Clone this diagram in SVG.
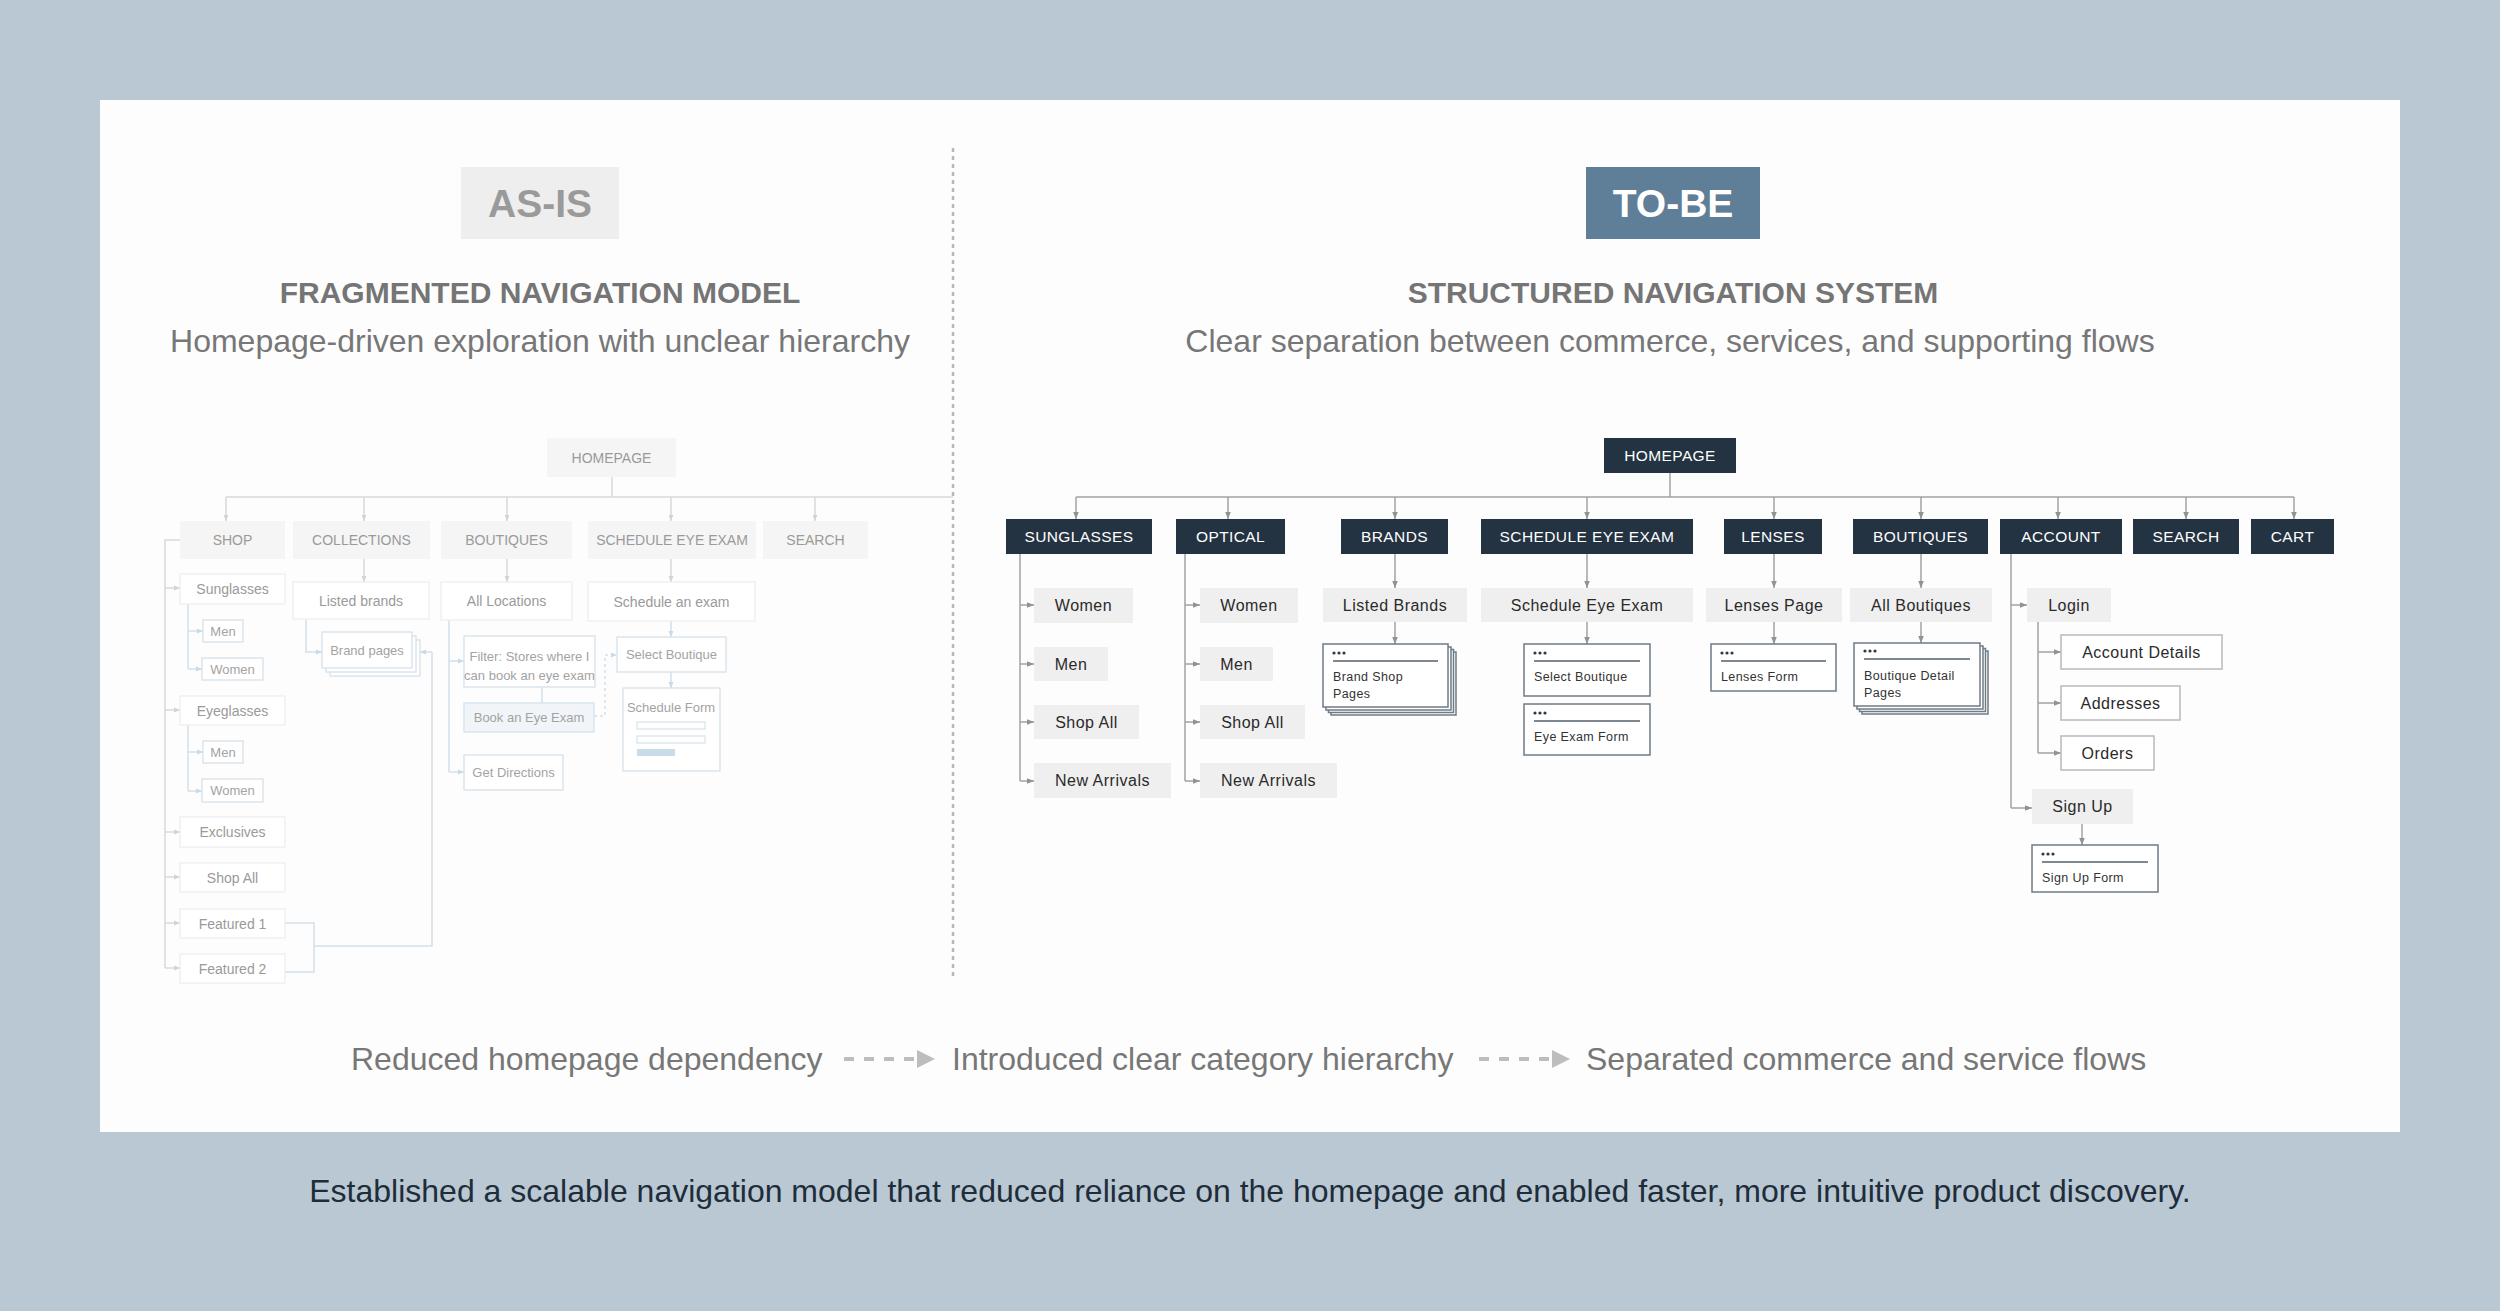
<svg xmlns="http://www.w3.org/2000/svg" width="2500" height="1311" viewBox="0 0 2500 1311">
<defs>
<style>
text{font-family:"Liberation Sans",Arial,sans-serif}
.h-tag{font-size:39px;font-weight:bold;text-anchor:middle}
.h-title{font-size:30px;font-weight:bold;fill:#757575;text-anchor:middle}
.h-sub{font-size:32px;fill:#777;text-anchor:middle}
.flow{font-size:32px;fill:#777}
.cap{font-size:32px;fill:#1f2d3b;text-anchor:middle}
.a1{fill:#f5f5f5}
.a2{fill:#fff;stroke:#eceef0;stroke-width:1.3}
.a3{fill:#fff;stroke:#d6e2eb;stroke-width:1.3}
.at{font-size:14px;fill:#9a9a9a;text-anchor:middle}
.as{font-size:13px;fill:#a3a3a3;text-anchor:middle}
.ac{stroke:#d6dadd;stroke-width:1.5;fill:none}
.ab{stroke:#d3dfe8;stroke-width:1.5;fill:none}
.t1{fill:#243342}
.t1t{font-size:15.5px;fill:#fff;letter-spacing:0.4px;text-anchor:middle}
.t2{fill:#efefef}
.t3{fill:#fff;stroke:#b9b9b9;stroke-width:1.5}
.t2t{font-size:16px;fill:#2a2a2a;letter-spacing:0.5px;text-anchor:middle}
.card{fill:#fff;stroke:#6f7b85;stroke-width:1.5}
.cl{stroke:#55616b;stroke-width:1.5}
.dot{fill:#2f3a44}
.ct{font-size:12.5px;fill:#333;letter-spacing:0.4px}
.tc{stroke:#a2a2a2;stroke-width:1.5;fill:none}
.fl{stroke:#bdbdbd;stroke-width:4;stroke-dasharray:10 10;fill:none}
</style>
<marker id="ta" viewBox="0 0 10 10" refX="10" refY="5" markerWidth="7" markerHeight="7" markerUnits="userSpaceOnUse" orient="auto"><path d="M0,1 L10,5 L0,9 z" fill="#929292"/></marker>
<marker id="aa" viewBox="0 0 10 10" refX="10" refY="5" markerWidth="6" markerHeight="6" markerUnits="userSpaceOnUse" orient="auto"><path d="M0,1 L10,5 L0,9 z" fill="#cfd4d8"/></marker>
<marker id="ba" viewBox="0 0 10 10" refX="10" refY="5" markerWidth="6" markerHeight="6" markerUnits="userSpaceOnUse" orient="auto"><path d="M0,1 L10,5 L0,9 z" fill="#c9dae6"/></marker>
</defs>

<rect x="0" y="0" width="2500" height="1311" fill="#b9c8d2"/>
<rect x="100" y="100" width="2300" height="1032" fill="#fdfdfd"/>
<line x1="953" y1="148" x2="953" y2="978" stroke="#b8b8b8" stroke-width="2.5" stroke-dasharray="4 4"/>

<!-- headers -->
<g id="hdr-asis">
<rect x="461" y="167" width="158" height="72" fill="#eeeeee"/>
<text class="h-tag" x="540" y="217" fill="#9a9a9a">AS-IS</text>
<text class="h-title" x="540" y="303">FRAGMENTED NAVIGATION MODEL</text>
<text class="h-sub" x="540" y="352">Homepage-driven exploration with unclear hierarchy</text>
</g>
<g id="hdr-tobe">
<rect x="1586" y="167" width="174" height="72" fill="#5f7f98"/>
<text class="h-tag" x="1673" y="217" fill="#ffffff">TO-BE</text>
<text class="h-title" x="1673" y="303">STRUCTURED NAVIGATION SYSTEM</text>
<text class="h-sub" x="1670" y="352">Clear separation between commerce, services, and supporting flows</text>
</g>

<!-- AS-IS connectors -->
<g id="asis-connectors">
<path class="ac" d="M612,477 V497 M226,497 H953"/>
<path class="ac" marker-end="url(#aa)" d="M226,497 V521"/>
<path class="ac" marker-end="url(#aa)" d="M364,497 V521"/>
<path class="ac" marker-end="url(#aa)" d="M507,497 V521"/>
<path class="ac" marker-end="url(#aa)" d="M671,497 V521"/>
<path class="ac" marker-end="url(#aa)" d="M815,497 V521"/>
<path class="ac" d="M180,540 H165 V968"/>
<path class="ac" marker-end="url(#aa)" d="M165,588 H180"/>
<path class="ac" marker-end="url(#aa)" d="M165,710 H180"/>
<path class="ac" marker-end="url(#aa)" d="M165,832 H180"/>
<path class="ac" marker-end="url(#aa)" d="M165,877 H180"/>
<path class="ac" marker-end="url(#aa)" d="M165,923 H180"/>
<path class="ac" marker-end="url(#aa)" d="M165,968 H180"/>
<path class="ab" d="M188,604 V669"/>
<path class="ab" marker-end="url(#ba)" d="M188,631 H203"/>
<path class="ab" marker-end="url(#ba)" d="M188,669 H202"/>
<path class="ab" d="M188,725 V791"/>
<path class="ab" marker-end="url(#ba)" d="M188,752 H203"/>
<path class="ab" marker-end="url(#ba)" d="M188,791 H202"/>
<path class="ab" d="M285,923 H314 V972 H285 M314,946 H432 V652"/>
<path class="ab" marker-end="url(#ba)" d="M432,652 H420"/>
<path class="ac" marker-end="url(#aa)" d="M364,559 V582"/>
<path class="ab" marker-end="url(#ba)" d="M306,619 V652 H322"/>
<path class="ac" marker-end="url(#aa)" d="M507,559 V582"/>
<path class="ab" d="M449,620 V772"/>
<path class="ab" marker-end="url(#ba)" d="M449,661 H464"/>
<path class="ab" marker-end="url(#ba)" d="M449,772 H464"/>
<path class="ab" d="M542,687 V703"/>
<path class="ab" stroke-dasharray="3 3" marker-end="url(#ba)" d="M594,716 H605 V655 H617"/>
<path class="ac" marker-end="url(#aa)" d="M671,559 V582"/>
<path class="ab" marker-end="url(#ba)" d="M671,621 V637"/>
<path class="ab" marker-end="url(#ba)" d="M671,672 V688"/>
</g>

<!-- AS-IS nodes -->
<g id="a-home"><rect class="a1" x="547" y="438" width="129" height="39"/><text class="at" x="611.5" y="462.5">HOMEPAGE</text></g>
<g id="a-shop"><rect class="a1" x="180" y="521" width="105" height="38"/><text class="at" x="232.5" y="545">SHOP</text></g>
<g id="a-collections"><rect class="a1" x="293" y="521" width="137" height="38"/><text class="at" x="361.5" y="545">COLLECTIONS</text></g>
<g id="a-boutiques"><rect class="a1" x="441" y="521" width="131" height="38"/><text class="at" x="506.5" y="545">BOUTIQUES</text></g>
<g id="a-schedule"><rect class="a1" x="588" y="521" width="168" height="38"/><text class="at" x="672" y="545">SCHEDULE EYE EXAM</text></g>
<g id="a-search"><rect class="a1" x="763" y="521" width="105" height="38"/><text class="at" x="815.5" y="545">SEARCH</text></g>

<g id="a-sunglasses"><rect class="a2" x="180" y="574" width="105" height="30"/><text class="at" x="232.5" y="594">Sunglasses</text></g>
<g id="a-sun-men"><rect class="a3" x="203" y="620" width="40" height="22"/><text class="as" x="223" y="635.5" font-size="12.5">Men</text></g>
<g id="a-sun-women"><rect class="a3" x="202" y="658" width="61" height="22"/><text class="as" x="232.5" y="673.5">Women</text></g>
<g id="a-eyeglasses"><rect class="a2" x="180" y="696" width="105" height="29"/><text class="at" x="232.5" y="715.5">Eyeglasses</text></g>
<g id="a-eye-men"><rect class="a3" x="203" y="741" width="40" height="22"/><text class="as" x="223" y="756.5">Men</text></g>
<g id="a-eye-women"><rect class="a3" x="202" y="779" width="61" height="23"/><text class="as" x="232.5" y="795">Women</text></g>
<g id="a-exclusives"><rect class="a2" x="180" y="817" width="105" height="30"/><text class="at" x="232.5" y="837">Exclusives</text></g>
<g id="a-shopall"><rect class="a2" x="180" y="863" width="105" height="29"/><text class="at" x="232.5" y="882.5">Shop All</text></g>
<g id="a-featured1"><rect class="a2" x="180" y="909" width="105" height="29"/><text class="at" x="232.5" y="928.5">Featured 1</text></g>
<g id="a-featured2"><rect class="a2" x="180" y="954" width="105" height="29"/><text class="at" x="232.5" y="973.5">Featured 2</text></g>

<g id="a-listed"><rect class="a2" x="293" y="582" width="136" height="37"/><text class="at" x="361" y="605.5" font-size="15">Listed brands</text></g>
<g id="a-brandpages"><rect class="a3" x="330" y="640" width="90" height="36"/><rect class="a3" x="326" y="636" width="90" height="36"/><rect class="a3" x="322" y="632" width="90" height="36"/><text class="as" x="367" y="654.5">Brand pages</text></g>

<g id="a-locations"><rect class="a2" x="441" y="582" width="131" height="38"/><text class="at" x="506.5" y="606" font-size="15">All Locations</text></g>
<g id="a-filter"><rect class="a3" x="464" y="636" width="131" height="51"/><text class="as" x="529.5" y="660.5" font-size="11.5">Filter: Stores where I</text><text class="as" x="529.5" y="679.5" font-size="11.5">can book an eye exam</text></g>
<g id="a-book"><rect class="a3" x="464" y="703" width="130" height="29" fill="#f1f5f9" style="fill:#f1f5f9"/><text class="as" x="529" y="722">Book an Eye Exam</text></g>
<g id="a-directions"><rect class="a3" x="464" y="755" width="99" height="35"/><text class="as" x="513.5" y="777">Get Directions</text></g>

<g id="a-schedexam"><rect class="a2" x="588" y="582" width="167" height="39"/><text class="at" x="671.5" y="606.5" font-size="14.5">Schedule an exam</text></g>
<g id="a-selectb"><rect class="a3" x="617" y="637" width="109" height="35"/><text class="as" x="671.5" y="659">Select Boutique</text></g>
<g id="a-schedform"><rect class="a3" x="623" y="688" width="97" height="83"/><text class="as" x="671" y="711.5" font-size="11.5">Schedule Form</text>
<rect x="637" y="722" width="68" height="7" fill="#fff" stroke="#d6e2eb" stroke-width="1.2"/>
<rect x="637" y="736" width="68" height="7" fill="#fff" stroke="#d6e2eb" stroke-width="1.2"/>
<rect x="637" y="749" width="38" height="7" fill="#c7dbe8"/></g>

<!-- TO-BE connectors -->
<g id="tobe-connectors">
<path class="tc" d="M1670,473 V497 M1076,497 H2294"/>
<path class="tc" marker-end="url(#ta)" d="M1076,497 V519"/>
<path class="tc" marker-end="url(#ta)" d="M1228,497 V519"/>
<path class="tc" marker-end="url(#ta)" d="M1395,497 V519"/>
<path class="tc" marker-end="url(#ta)" d="M1587,497 V519"/>
<path class="tc" marker-end="url(#ta)" d="M1774,497 V519"/>
<path class="tc" marker-end="url(#ta)" d="M1921,497 V519"/>
<path class="tc" marker-end="url(#ta)" d="M2058,497 V519"/>
<path class="tc" marker-end="url(#ta)" d="M2186,497 V519"/>
<path class="tc" marker-end="url(#ta)" d="M2294,497 V519"/>
<path class="tc" d="M1020,554 V781"/>
<path class="tc" marker-end="url(#ta)" d="M1020,605 H1034"/>
<path class="tc" marker-end="url(#ta)" d="M1020,664 H1034"/>
<path class="tc" marker-end="url(#ta)" d="M1020,722 H1034"/>
<path class="tc" marker-end="url(#ta)" d="M1020,781 H1034"/>
<path class="tc" d="M1185,554 V781"/>
<path class="tc" marker-end="url(#ta)" d="M1185,605 H1200"/>
<path class="tc" marker-end="url(#ta)" d="M1185,664 H1200"/>
<path class="tc" marker-end="url(#ta)" d="M1185,722 H1200"/>
<path class="tc" marker-end="url(#ta)" d="M1185,781 H1200"/>
<path class="tc" marker-end="url(#ta)" d="M1395,554 V588"/>
<path class="tc" marker-end="url(#ta)" d="M1395,622 V644"/>
<path class="tc" marker-end="url(#ta)" d="M1587,554 V588"/>
<path class="tc" marker-end="url(#ta)" d="M1587,622 V644"/>
<path class="tc" marker-end="url(#ta)" d="M1774,554 V588"/>
<path class="tc" marker-end="url(#ta)" d="M1774,622 V644"/>
<path class="tc" marker-end="url(#ta)" d="M1921,554 V588"/>
<path class="tc" marker-end="url(#ta)" d="M1921,622 V643"/>
<path class="tc" d="M2011,554 V808"/>
<path class="tc" marker-end="url(#ta)" d="M2011,605 H2027"/>
<path class="tc" marker-end="url(#ta)" d="M2011,808 H2032"/>
<path class="tc" d="M2038,622 V753"/>
<path class="tc" marker-end="url(#ta)" d="M2038,652 H2061"/>
<path class="tc" marker-end="url(#ta)" d="M2038,703 H2061"/>
<path class="tc" marker-end="url(#ta)" d="M2038,753 H2061"/>
<path class="tc" marker-end="url(#ta)" d="M2082,824 V845"/>
</g>

<!-- TO-BE nodes -->
<g id="t-home"><rect class="t1" x="1604" y="438" width="132" height="35"/><text class="t1t" x="1670" y="461">HOMEPAGE</text></g>
<g id="t-sunglasses"><rect class="t1" x="1006" y="519" width="146" height="35"/><text class="t1t" x="1079" y="542">SUNGLASSES</text></g>
<g id="t-optical"><rect class="t1" x="1176" y="519" width="109" height="35"/><text class="t1t" x="1230.5" y="542">OPTICAL</text></g>
<g id="t-brands"><rect class="t1" x="1341" y="519" width="107" height="35"/><text class="t1t" x="1394.5" y="542">BRANDS</text></g>
<g id="t-schedule"><rect class="t1" x="1481" y="519" width="212" height="35"/><text class="t1t" x="1587" y="542">SCHEDULE EYE EXAM</text></g>
<g id="t-lenses"><rect class="t1" x="1724" y="519" width="98" height="35"/><text class="t1t" x="1773" y="542">LENSES</text></g>
<g id="t-boutiques"><rect class="t1" x="1853" y="519" width="135" height="35"/><text class="t1t" x="1920.5" y="542">BOUTIQUES</text></g>
<g id="t-account"><rect class="t1" x="2000" y="519" width="122" height="35"/><text class="t1t" x="2061" y="542">ACCOUNT</text></g>
<g id="t-search"><rect class="t1" x="2133" y="519" width="106" height="35"/><text class="t1t" x="2186" y="542">SEARCH</text></g>
<g id="t-cart"><rect class="t1" x="2251" y="519" width="83" height="35"/><text class="t1t" x="2292.5" y="542">CART</text></g>

<g id="t-sun-women"><rect class="t2" x="1034" y="588" width="99" height="35"/><text class="t2t" x="1083.5" y="610.5">Women</text></g>
<g id="t-sun-men"><rect class="t2" x="1034" y="647" width="74" height="34"/><text class="t2t" x="1071" y="669.5">Men</text></g>
<g id="t-sun-shopall"><rect class="t2" x="1034" y="705" width="105" height="34"/><text class="t2t" x="1086.5" y="727.5">Shop All</text></g>
<g id="t-sun-new"><rect class="t2" x="1034" y="763" width="137" height="35"/><text class="t2t" x="1102.5" y="786">New Arrivals</text></g>
<g id="t-opt-women"><rect class="t2" x="1200" y="588" width="98" height="35"/><text class="t2t" x="1249" y="610.5">Women</text></g>
<g id="t-opt-men"><rect class="t2" x="1200" y="647" width="73" height="34"/><text class="t2t" x="1236.5" y="669.5">Men</text></g>
<g id="t-opt-shopall"><rect class="t2" x="1200" y="705" width="105" height="34"/><text class="t2t" x="1252.5" y="727.5">Shop All</text></g>
<g id="t-opt-new"><rect class="t2" x="1200" y="763" width="137" height="35"/><text class="t2t" x="1268.5" y="786">New Arrivals</text></g>
<g id="t-listed"><rect class="t2" x="1323" y="588" width="144" height="34"/><text class="t2t" x="1395" y="610.5">Listed Brands</text></g>
<g id="t-schedexam"><rect class="t2" x="1481" y="588" width="212" height="34"/><text class="t2t" x="1587" y="610.5">Schedule Eye Exam</text></g>
<g id="t-lensespage"><rect class="t2" x="1706" y="588" width="136" height="34"/><text class="t2t" x="1774" y="610.5">Lenses Page</text></g>
<g id="t-allboutiques"><rect class="t2" x="1850" y="588" width="142" height="34"/><text class="t2t" x="1921" y="610.5">All Boutiques</text></g>
<g id="t-login"><rect class="t2" x="2027" y="588" width="84" height="34"/><text class="t2t" x="2069" y="610.5">Login</text></g>
<g id="t-accdetails"><rect class="t3" x="2061" y="635" width="161" height="34"/><text class="t2t" x="2141.5" y="657.5">Account Details</text></g>
<g id="t-addresses"><rect class="t3" x="2061" y="686" width="119" height="34"/><text class="t2t" x="2120.5" y="708.5">Addresses</text></g>
<g id="t-orders"><rect class="t3" x="2061" y="736" width="93" height="34"/><text class="t2t" x="2107.5" y="758.5">Orders</text></g>
<g id="t-signup"><rect class="t2" x="2032" y="789" width="101" height="35"/><text class="t2t" x="2082.5" y="812">Sign Up</text></g>

<g id="t-brandshop">
<rect class="card" x="1331" y="652" width="125" height="63"/><rect class="card" x="1328.5" y="649.5" width="125" height="63"/><rect class="card" x="1326" y="647" width="125" height="63"/><rect class="card" x="1323" y="644" width="125" height="63"/>
<circle class="dot" cx="1334" cy="653" r="1.6"/><circle class="dot" cx="1339" cy="653" r="1.6"/><circle class="dot" cx="1344" cy="653" r="1.6"/>
<line class="cl" x1="1333" y1="661" x2="1438" y2="661"/>
<text class="ct" x="1333" y="681">Brand Shop</text><text class="ct" x="1333" y="698">Pages</text>
</g>
<g id="t-selectb">
<rect class="card" x="1524" y="644" width="126" height="52"/>
<circle class="dot" cx="1535" cy="653" r="1.6"/><circle class="dot" cx="1540" cy="653" r="1.6"/><circle class="dot" cx="1545" cy="653" r="1.6"/>
<line class="cl" x1="1534" y1="661" x2="1640" y2="661"/>
<text class="ct" x="1534" y="681">Select Boutique</text>
</g>
<g id="t-examform">
<rect class="card" x="1524" y="704" width="126" height="51"/>
<circle class="dot" cx="1535" cy="713" r="1.6"/><circle class="dot" cx="1540" cy="713" r="1.6"/><circle class="dot" cx="1545" cy="713" r="1.6"/>
<line class="cl" x1="1534" y1="721" x2="1640" y2="721"/>
<text class="ct" x="1534" y="741">Eye Exam Form</text>
</g>
<g id="t-lensesform">
<rect class="card" x="1711" y="644" width="125" height="47"/>
<circle class="dot" cx="1722" cy="653" r="1.6"/><circle class="dot" cx="1727" cy="653" r="1.6"/><circle class="dot" cx="1732" cy="653" r="1.6"/>
<line class="cl" x1="1721" y1="661" x2="1826" y2="661"/>
<text class="ct" x="1721" y="681">Lenses Form</text>
</g>
<g id="t-boutiquedetail">
<rect class="card" x="1862" y="651" width="126" height="63"/><rect class="card" x="1859.5" y="648.5" width="126" height="63"/><rect class="card" x="1857" y="646" width="126" height="63"/><rect class="card" x="1854" y="643" width="126" height="63"/>
<circle class="dot" cx="1865" cy="651" r="1.6"/><circle class="dot" cx="1870" cy="651" r="1.6"/><circle class="dot" cx="1875" cy="651" r="1.6"/>
<line class="cl" x1="1864" y1="659" x2="1970" y2="659"/>
<text class="ct" x="1864" y="680">Boutique Detail</text><text class="ct" x="1864" y="697">Pages</text>
</g>
<g id="t-signupform">
<rect class="card" x="2032" y="845" width="126" height="47"/>
<circle class="dot" cx="2043" cy="854" r="1.6"/><circle class="dot" cx="2048" cy="854" r="1.6"/><circle class="dot" cx="2053" cy="854" r="1.6"/>
<line class="cl" x1="2042" y1="862" x2="2148" y2="862"/>
<text class="ct" x="2042" y="882">Sign Up Form</text>
</g>

<!-- bottom flow -->
<g id="flow">
<text class="flow" x="351" y="1070">Reduced homepage dependency</text>
<line class="fl" x1="844" y1="1059" x2="918" y2="1059"/>
<polygon points="917,1050 935,1059 917,1068" fill="#bdbdbd"/>
<text class="flow" x="952" y="1070">Introduced clear category hierarchy</text>
<line class="fl" x1="1479" y1="1059" x2="1553" y2="1059"/>
<polygon points="1552,1050 1570,1059 1552,1068" fill="#bdbdbd"/>
<text class="flow" x="1586" y="1070">Separated commerce and service flows</text>
</g>

<text class="cap" x="1250" y="1202">Established a scalable navigation model that reduced reliance on the homepage and enabled faster, more intuitive product discovery.</text>
</svg>
